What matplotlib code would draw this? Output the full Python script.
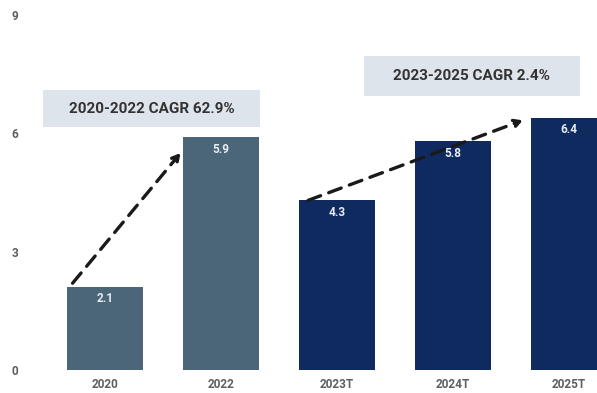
import matplotlib.pyplot as plt
from matplotlib.patches import Rectangle

years = ["2020", "2022", "2023T", "2024T", "2025T"]
values = [2.1, 5.9, 4.3, 5.8, 6.4]
bar_colors = ["#4b6679", "#4b6679", "#0f2a5f", "#0f2a5f", "#0f2a5f"]
y_ticks = [0, 3, 6, 9]
cagr_labels = ["2020-2022 CAGR 62.9%", "2023-2025 CAGR 2.4%"]

plt.rcParams["font.family"] = ["Roboto", "DejaVu Sans"]

fig = plt.figure(figsize=(5.97, 3.93), dpi=100)
W, H = 597, 393
ax = fig.add_axes([25 / W, 23 / H, 1 - 25 / W, (370 - 15) / H])

x = list(range(len(years)))
ax.bar(x, values, width=0.65, color=bar_colors, zorder=2)

for xi, v in zip(x, values):
    ax.text(xi, v - 0.3, f"{v}", ha="center", va="center", color="#e8ecf2",
            fontsize=8.5, fontweight="bold", zorder=3)

ax.set_xlim(-0.69, 4.24)
ax.set_ylim(0, 9)
ax.set_yticks(y_ticks)
ax.set_xticks(x)
ax.set_xticklabels(years)
ax.tick_params(axis="both", length=0, labelsize=8.5, labelcolor="#5e5e5e")
ax.tick_params(axis="x", pad=6)
ax.tick_params(axis="y", pad=5)
for lab in ax.get_xticklabels() + ax.get_yticklabels():
    lab.set_fontweight("bold")
for s in ax.spines.values():
    s.set_visible(False)

# dashed growth arrows
arrow_kw = dict(arrowstyle="-|>,head_length=0.45,head_width=0.25", color="#1a1a1a",
                lw=2.4, linestyle=(0, (4, 2.6)), shrinkA=0, shrinkB=0)
ax.annotate("", xy=(0.65, 5.5), xytext=(-0.28, 2.2), arrowprops=arrow_kw, zorder=4)
ax.annotate("", xy=(3.6, 6.33), xytext=(1.75, 4.3), arrowprops=arrow_kw, zorder=4)

# CAGR label boxes
ax.add_patch(Rectangle((-0.534, 6.15), 1.87, 0.94, facecolor="#dde4ec",
                       edgecolor="none", zorder=5, clip_on=False))
ax.text(0.40, 6.62, cagr_labels[0], ha="center", va="center", fontsize=11,
        fontweight="bold", color="#333333", zorder=6)
ax.add_patch(Rectangle((2.233, 6.94), 1.862, 1.03, facecolor="#dde4ec",
                       edgecolor="none", zorder=5, clip_on=False))
ax.text(3.16, 7.46, cagr_labels[1], ha="center", va="center", fontsize=11,
        fontweight="bold", color="#333333", zorder=6)

fig.savefig("out.png", dpi=100)
